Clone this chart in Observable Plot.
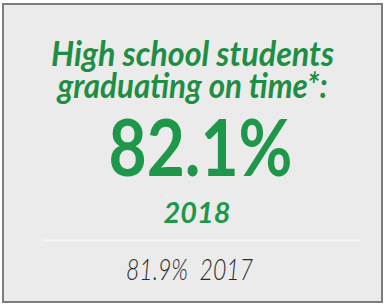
<!DOCTYPE html>
<html>
<head>
<meta charset="utf-8">
<script src="https://cdn.jsdelivr.net/npm/d3@7"></script>
<script src="https://cdn.jsdelivr.net/npm/@observablehq/plot@0.6"></script>
<style>
  html, body { margin: 0; padding: 0; background: #ffffff; }
  #chart svg { display: block; }
</style>
</head>
<body>
<div id="chart"></div>
<script>
// Data
const headlineLines = ["High school students", "graduating on time*:"];
const currentValue = ["82.1%"];
const currentYear = ["2018"];
const previousValue = ["81.9%"];
const previousYear = ["2017"];

const W = 386, H = 304;
const green = "#1f974a";

const titleSize = 34;
const titleRows = [{t: headlineLines.join("\n"), y: 97}];
const titleLens = [283, 270];
const valueRows = currentValue.map(t => ({t, y: 175, len: 184}));
const yearRows = currentYear.map(t => ({t, y: 222, len: 67}));
const prevRows = previousValue.map((v, i) => ({t: v + "\u00a0\u00a0" + previousYear[i], y: 279, len: 127}));

const chart = Plot.plot({
  width: W,
  height: H,
  margin: 0,
  x: {domain: [0, W], axis: null},
  y: {domain: [0, H], axis: null, range: [0, H]},
  style: {background: "#ffffff", fontFamily: "Lato, sans-serif"},
  marks: [
    Plot.rect([{x1: 3, x2: 382, y1: 4, y2: 302}], {x1: "x1", x2: "x2", y1: "y1", y2: "y2", fill: "#ebebeb", stroke: "#7d7d7d", strokeWidth: 2}),
    Plot.ruleY([240], {x1: 43, x2: 360, stroke: "#f7f7f7", strokeWidth: 2}),
    Plot.text(titleRows, {x: W / 2 - 1, y: "y", text: "t", lineAnchor: "bottom", lineHeight: 32 / titleSize, fill: "#1e8e45", fontSize: titleSize, fontWeight: 700, fontStyle: "italic"}),
    Plot.text(valueRows, {x: 200, y: "y", text: "t", lineAnchor: "bottom", fill: green, fontSize: 78, fontWeight: 700}),
    Plot.text(yearRows, {x: 196.5, y: "y", text: "t", lineAnchor: "bottom", fill: green, fontSize: 28, fontWeight: 700, fontStyle: "italic"}),
    Plot.text(prevRows, {x: 189, y: "y", text: "t", lineAnchor: "bottom", fill: "#2a2a2a", fontSize: 29, fontWeight: 300, fontStyle: "italic"})
  ]
});

// Fit text widths to the card layout
const lens = new Map([...valueRows, ...yearRows, ...prevRows].map(d => [d.t, d.len]));
headlineLines.forEach((t, i) => lens.set(t, titleLens[i]));
d3.select(chart).selectAll("text, tspan").each(function() {
  if (this.tagName === "text" && this.querySelector("tspan")) return;
  const txt = this.textContent;
  if (lens.has(txt)) {
    this.setAttribute("textLength", lens.get(txt));
    this.setAttribute("lengthAdjust", "spacingAndGlyphs");
  }
});

document.getElementById("chart").appendChild(chart);
</script>
</body>
</html>
